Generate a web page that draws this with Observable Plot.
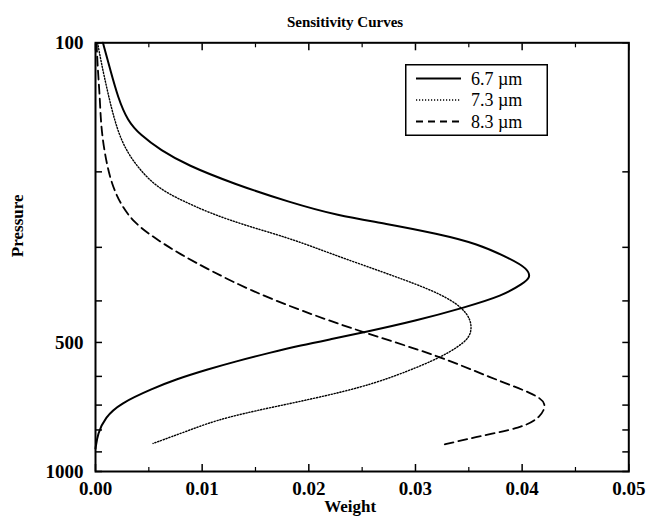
<!DOCTYPE html>
<html>
<head>
<meta charset="utf-8">
<script src="https://cdn.jsdelivr.net/npm/d3@7"></script>
<script src="https://cdn.jsdelivr.net/npm/@observablehq/plot@0.6"></script>
<style>
  html, body { margin: 0; padding: 0; background: #fff; }
  #wrap { position: relative; width: 646px; height: 519px; overflow: hidden; font-family: "Liberation Serif", serif; }
  #title { box-sizing: border-box; height: 30px; padding-top: 15px; line-height: 15px; font-size: 15px; font-weight: bold; text-align: center; width: 646px; padding-left: 44px; color: #000; }
  #legend { position: absolute; left: 405px; top: 64px; }
</style>
</head>
<body>
<div id="wrap">
  <div id="title">Sensitivity Curves</div>
  <div id="chart"></div>
  <svg id="legend" width="144" height="73"></svg>
</div>
<script>
// ---- data ----
const seriesNames = ["6.7 µm", "7.3 µm", "8.3 µm"];

const weight67 = [0.0007, 0.0014, 0.0021, 0.0030, 0.0042, 0.0061, 0.0086, 0.0129, 0.0183, 0.0227, 0.0272, 0.0321, 0.0358, 0.0389, 0.0405, 0.0408, 0.0401, 0.0382, 0.0345, 0.0302, 0.0251, 0.0223, 0.0192, 0.0164, 0.0131, 0.0105, 0.0075, 0.0054, 0.0023, 0.0009, 0.0002, 0.0000];
const pressure67 = [100, 116, 134, 152, 164, 178, 193, 213, 236, 253, 264, 279, 294, 319, 336, 353, 364, 389, 415, 444, 474, 490, 508, 528, 554, 578, 610, 640, 694, 748, 816, 884];

const weight73 = [0.0002, 0.0005, 0.0011, 0.0017, 0.0025, 0.0039, 0.0058, 0.0082, 0.0108, 0.0141, 0.0183, 0.0223, 0.0270, 0.0309, 0.0335, 0.0349, 0.0353, 0.0351, 0.0339, 0.0323, 0.0295, 0.0251, 0.0183, 0.0120, 0.0087, 0.0054];
const pressure73 = [100, 110, 129, 149, 172, 195, 218, 234, 250, 267, 286, 312, 343, 372, 399, 428, 457, 487, 514, 542, 581, 637, 694, 748, 803, 860];

const weight83 = [0.0001, 0.0002, 0.0004, 0.0005, 0.0008, 0.0014, 0.0023, 0.0036, 0.0056, 0.0080, 0.0108, 0.0145, 0.0192, 0.0251, 0.0321, 0.0370, 0.0411, 0.0424, 0.0417, 0.0401, 0.0354, 0.0323];
const pressure83 = [100, 114, 133, 154, 178, 210, 237, 263, 286, 312, 340, 378, 421, 474, 536, 604, 658, 694, 748, 790, 833, 870];

const weightTicks = [0, 0.01, 0.02, 0.03, 0.04, 0.05];
const weightMinorTicks = [0.005, 0.015, 0.025, 0.035, 0.045];
const pressureTicks = [100, 200, 300, 400, 500, 600, 700, 800, 900, 1000];
const pressureLabels = [100, 500, 1000];

// ---- build tables ----
const toRows = (ws, ps, name) => ws.map((w, i) => ({w, p: ps[i], series: name}));
const s67 = toRows(weight67, pressure67, seriesNames[0]);
const s73 = toRows(weight73, pressure73, seriesNames[1]);
const s83 = toRows(weight83, pressure83, seriesNames[2]);

const styles = [
  {strokeWidth: 2, strokeDasharray: null},
  {strokeWidth: 1.4, strokeDasharray: "1.2,1.8"},
  {strokeWidth: 1.8, strokeDasharray: "9,5"}
];

const chart = Plot.plot({
  width: 646,
  height: 489,
  marginTop: 12.3,
  marginBottom: 48,
  marginLeft: 95,
  marginRight: 17.7,
  style: {fontFamily: "Liberation Serif, serif", fontSize: "19px", color: "#000", background: "#fff"},
  x: {domain: [0, 0.05], label: null},
  y: {type: "log", domain: [100, 1000], reverse: true, label: null},
  marks: [
    Plot.line(s67, {x: "w", y: "p", curve: "basis", stroke: "#000", ...styles[0]}),
    Plot.line(s73, {x: "w", y: "p", curve: "basis", stroke: "#000", ...styles[1]}),
    Plot.line(s83, {x: "w", y: "p", curve: "basis", stroke: "#000", ...styles[2]}),
    // bottom axis
    Plot.axisX(weightTicks, {anchor: "bottom", tickSize: 0, tickPadding: 10, tickFormat: d => d.toFixed(2), fontWeight: "bold", fontSize: 19, label: null}),
    Plot.axisX(weightTicks, {anchor: "bottom", tickSize: -7, text: null, strokeWidth: 1.5, label: null}),
    Plot.axisX(weightMinorTicks, {anchor: "bottom", tickSize: -4, text: null, strokeWidth: 1.2, label: null}),
    // top ticks
    Plot.axisX(weightTicks, {anchor: "top", tickSize: -7, text: null, strokeWidth: 1.5, label: null}),
    Plot.axisX(weightMinorTicks, {anchor: "top", tickSize: -4, text: null, strokeWidth: 1.2, label: null}),
    // left axis
    Plot.axisY(pressureLabels, {anchor: "left", tickSize: 0, tickPadding: 12, tickFormat: d => String(d), fontWeight: "bold", fontSize: 19, label: null}),
    Plot.axisY(pressureTicks, {anchor: "left", tickSize: -7, text: null, strokeWidth: 1.5, label: null}),
    // right ticks
    Plot.axisY(pressureTicks, {anchor: "right", tickSize: -7, text: null, strokeWidth: 1.5, label: null}),
    Plot.frame({stroke: "#000", strokeWidth: 2}),
    Plot.text(["Pressure"], {frameAnchor: "left", dx: -78, rotate: -90, fontWeight: "bold", fontSize: 17, fill: "#000"}),
    Plot.text(["Weight"], {frameAnchor: "bottom", dx: -12, dy: 40, fontWeight: "bold", fontSize: 17, fill: "#000"})
  ]
});
document.getElementById("chart").appendChild(chart);

// ---- legend ----
const lg = d3.select("#legend");
lg.append("rect").attr("x", 0.75).attr("y", 0.75).attr("width", 141.5).attr("height", 70.5)
  .attr("fill", "#fff").attr("stroke", "#000").attr("stroke-width", 1.5);
const rowY = [14.5, 36, 57.5];
seriesNames.forEach((name, i) => {
  lg.append("line").attr("x1", 11).attr("x2", 56).attr("y1", rowY[i]).attr("y2", rowY[i])
    .attr("stroke", "#000").attr("stroke-width", styles[i].strokeWidth)
    .attr("stroke-dasharray", i === 2 ? "7,5" : styles[i].strokeDasharray);
  lg.append("text").attr("x", 66).attr("y", rowY[i]).attr("dy", "0.35em")
    .attr("font-family", "Liberation Serif, serif").attr("font-size", 18).attr("fill", "#000")
    .text(name);
});
</script>
</body>
</html>
